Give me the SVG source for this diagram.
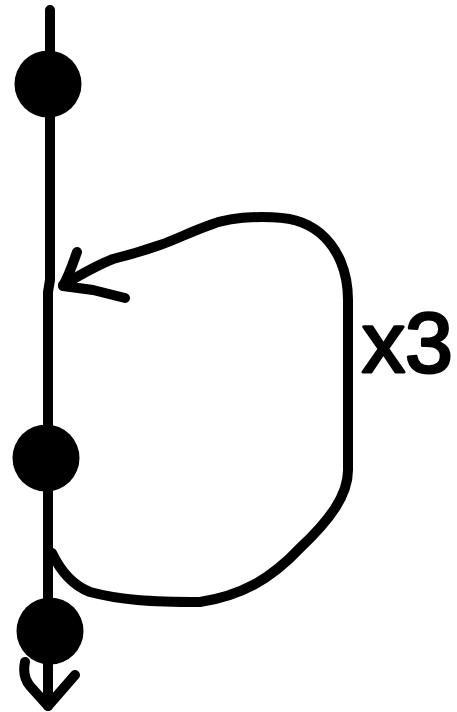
<svg xmlns="http://www.w3.org/2000/svg" width="457" height="712" viewBox="0 0 457 712">
<style>
.ln{fill:none;stroke:#000;stroke-width:10;stroke-linecap:round;stroke-linejoin:round}
.dot{fill:#000}
.lbl{font-family:"Liberation Sans",Arial,sans-serif;font-size:86px;fill:#000;stroke:#000;stroke-width:3;stroke-linejoin:round}
</style>
<rect width="457" height="712" fill="#fff"/>
<g id="connectors">
<path class="ln" d="M50,10 L50,280 L48,292 L48,706"/>
<path class="ln" d="M25,662 Q22,676 30,686 L48,706 L75,675"/>
<path class="ln" d="M52,553 C60,570 72,585 90,592 C120,600 150,602 200,602 C240,596 270,580 300,548 C330,520 348,495 348,470 L348,300 C348,272 338,248 320,233 C305,221 290,217 262,217 C240,217 225,219 210,225 C190,232 175,240 160,245 C140,252 125,256 113,259 C95,266 80,275 63,285"/>
<path class="ln" d="M77,252 C73,263 70,273 63,286 L93,290 L125,298"/>
</g>
<g id="node1"><circle class="dot" cx="48" cy="84" r="33.5"/></g>
<g id="node2"><circle class="dot" cx="46" cy="458" r="33.5"/></g>
<g id="node3"><circle class="dot" cx="50" cy="631" r="33.5"/></g>
<g id="label"><text class="lbl" x="362" y="372">x3</text></g>
</svg>
